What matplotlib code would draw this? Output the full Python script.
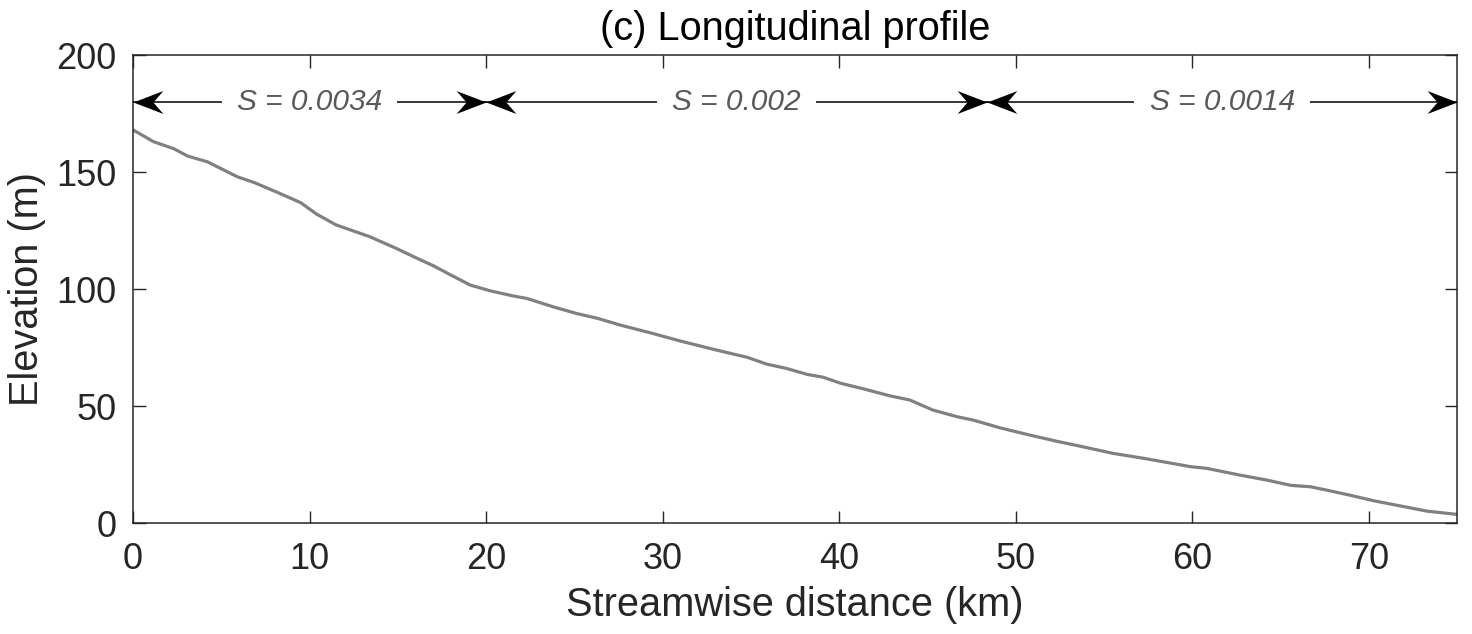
import numpy as np
import matplotlib.pyplot as plt
from matplotlib.path import Path

plt.rcParams['font.family'] = ['Liberation Sans', 'DejaVu Sans']

# -----------------------------
# Data
# -----------------------------
dist_km = [0.0, 1.15, 2.3, 3.1, 4.2, 5.9, 6.9, 8.3, 9.5, 10.4, 11.5, 13.4,
           14.9, 16.1, 17.0, 18.0, 19.1, 20.2, 21.5, 22.3, 23.8, 25.1, 26.3,
           27.6, 29.3, 31.0, 32.9, 34.8, 35.9, 37.0, 38.2, 39.1, 40.1, 41.4,
           42.9, 44.0, 45.3, 46.7, 47.6, 49.1, 50.8, 52.3, 53.8, 55.5, 57.3,
           59.9, 60.8, 62.7, 64.2, 65.6, 66.7, 67.6, 69.0, 70.3, 71.8, 73.3,
           75.0]
elev_m = [168.0, 163.0, 160.0, 156.8, 154.4, 148.0, 145.4, 140.9, 136.9,
          132.0, 127.4, 122.4, 117.4, 113.1, 110.0, 106.0, 101.7, 99.3, 97.1,
          96.0, 92.4, 89.6, 87.5, 84.6, 81.3, 77.8, 74.2, 70.8, 67.9, 66.1,
          63.5, 62.3, 59.7, 57.3, 54.3, 52.6, 48.3, 45.4, 44.0, 40.7, 37.6,
          35.0, 32.6, 29.8, 27.6, 24.1, 23.4, 20.5, 18.4, 16.1, 15.5, 14.1,
          11.8, 9.5, 7.3, 5.1, 3.7]

# reach boundaries and slopes
reach_edges = [0, 20, 48.4, 75]
slope_labels = ['S = 0.0034', 'S = 0.002', 'S = 0.0014']
arrow_y = 180

xticks = [0, 10, 20, 30, 40, 50, 60, 70]
yticks = [0, 50, 100, 150, 200]

# -----------------------------
# Arrowhead markers (concave back, like matlab)
# -----------------------------
head = np.array([[0, 0], [-30, 11.5], [-20, 0], [-30, -11.5], [0, 0]])
codes = [Path.MOVETO, Path.LINETO, Path.LINETO, Path.LINETO, Path.CLOSEPOLY]
right_head = Path(head, codes)
left_head = Path(head * [-1, 1], codes)

# -----------------------------
# Plot
# -----------------------------
fig = plt.figure(figsize=(14.72, 6.34), dpi=100)
ax = fig.add_axes([0.0904, 0.175, 0.8994, 0.7382])

ax.plot(dist_km, elev_m, color='#808080', lw=2.3, solid_capstyle='round',
        solid_joinstyle='round')

for i, lab in enumerate(slope_labels):
    x0, x1 = reach_edges[i], reach_edges[i + 1]
    ax.plot([x0, x1], [arrow_y, arrow_y], color='black', lw=1.1, zorder=3)
    ax.plot([x0], [arrow_y], marker=left_head, ms=43, color='black',
            mew=0, zorder=5, clip_on=False)
    ax.plot([x1], [arrow_y], marker=right_head, ms=43, color='black',
            mew=0, zorder=5, clip_on=False)
    ax.text((x0 + x1) / 2, arrow_y, lab, fontsize=21.5, style='italic',
            color='#595959', ha='center', va='center', zorder=4,
            bbox=dict(facecolor='white', edgecolor='none', pad=11))

ax.set_xlim(0, 75)
ax.set_ylim(0, 200)
ax.set_xticks(xticks)
ax.set_yticks(yticks)

ax.tick_params(direction='in', length=9, width=1.0, top=True, right=True,
               labelsize=26, colors='#262626')
ax.tick_params(axis='x', pad=14)
ax.tick_params(axis='y', pad=12)
for s in ax.spines.values():
    s.set_color('#262626')
    s.set_linewidth(1.1)

ax.set_xlabel('Streamwise distance (km)', fontsize=28.6, color='#262626',
              labelpad=6)
ax.set_ylabel('Elevation (m)', fontsize=28.6, color='#262626', labelpad=7)
ax.set_title('(c) Longitudinal profile', fontsize=28.6, color='black', pad=11)

fig.savefig('out.png', dpi=100)
